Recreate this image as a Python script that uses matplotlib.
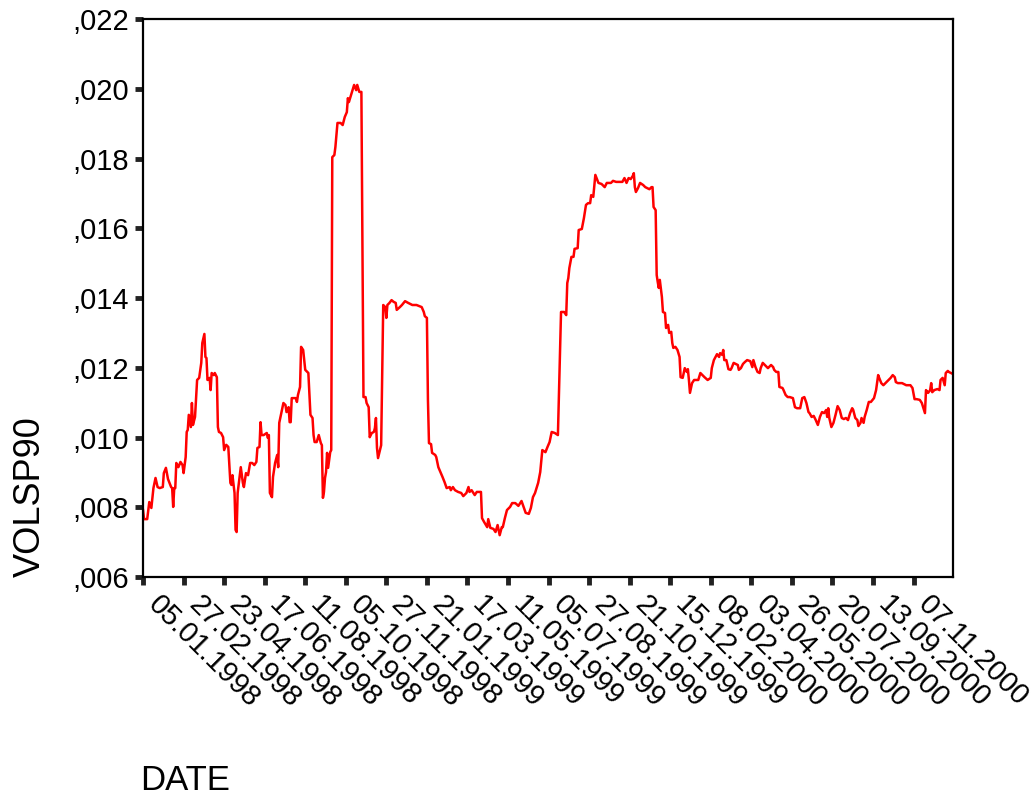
import matplotlib
matplotlib.use("Agg")
import matplotlib.pyplot as plt
import matplotlib.transforms as mtransforms
import numpy as np
from matplotlib.ticker import FuncFormatter, MultipleLocator

plt.rcParams["font.family"] = ["Liberation Sans", "DejaVu Sans"]

# trading-day number (0 = 05.01.1998) and 90-day volatility of the S&P series
DAY = [
    0, 1, 4, 6, 8, 10, 12, 14, 16, 19, 20, 22, 24, 27, 28, 29, 30, 31, 32, 34,
    36, 38, 39, 41, 42, 43, 44, 46, 47, 48, 50, 52, 54, 56, 57, 59, 60, 61, 62, 64,
    65, 66, 68, 69, 71, 72, 73, 75, 77, 78, 80, 82, 84, 85, 86, 88, 89, 90, 91, 94,
    96, 97, 99, 101, 103, 105, 107, 109, 110, 112, 113, 114, 116, 119, 120, 121, 122, 124, 125, 127,
    129, 130, 131, 133, 135, 137, 138, 140, 141, 142, 143, 147, 148, 149, 151, 152, 154, 156, 159, 161,
    163, 164, 165, 167, 169, 171, 172, 173, 174, 175, 176, 177, 178, 180, 181, 182, 184, 185, 187, 190,
    192, 194, 196, 197, 198, 200, 203, 205, 206, 208, 210, 212, 214, 215, 217, 218, 220, 222, 223, 224,
    225, 226, 229, 231, 233, 234, 235, 237, 239, 241, 243, 244, 247, 249, 252, 255, 259, 263, 268, 270,
    271, 273, 274, 275, 277, 278, 281, 282, 284, 286, 288, 290, 292, 295, 296, 298, 300, 303, 306, 308,
    311, 313, 314, 316, 319, 321, 325, 326, 328, 331, 332, 334, 337, 339, 341, 343, 345, 346, 348, 350,
    353, 355, 358, 361, 364, 366, 368, 371, 373, 375, 377, 380, 382, 384, 387, 389, 391, 393, 396, 399,
    402, 405, 407, 408, 409, 410, 412, 414, 415, 418, 419, 422, 424, 426, 428, 430, 431, 433, 435, 437,
    438, 441, 444, 446, 450, 452, 455, 461, 463, 465, 467, 469, 471, 472, 473, 474, 476, 478, 481, 483,
    487, 489, 490, 491, 493, 494, 495, 496, 497, 499, 500, 502, 503, 505, 506, 508, 509, 510, 512, 514,
    516, 517, 519, 521, 523, 524, 525, 526, 528, 530, 534, 536, 540, 543, 546, 547, 549, 552, 554, 555,
    557, 558, 559, 561, 563, 565, 566, 568, 570, 572, 573, 575, 577, 579, 581, 584, 586, 587, 589, 591,
    593, 594, 596, 598, 601, 604, 606, 607, 609, 611, 612, 615, 616, 618, 620, 622, 625, 627, 629, 632,
    634, 636, 638, 640, 641, 643, 645, 647, 649, 651, 653, 655, 657, 658, 659, 660, 662, 664, 666, 668,
    670, 672, 674, 676, 678, 680, 682, 683, 685, 687, 688, 690, 691, 693, 694, 696, 698, 700, 703, 705,
    707, 708, 710, 712, 715, 717, 719, 721, 723, 724, 726, 730, 734, 738, 740, 742, 744, 747, 749, 751,
    752, 753, 755, 757, 758, 759, 761, 764, 766, 767, 769, 771, 772, 774, 775, 777, 779,
]

VOLSP90 = [
    0.00792, 0.00766, 0.00766, 0.00815, 0.00798, 0.00855, 0.00884, 0.00858, 0.00855, 0.00858,
    0.00898, 0.00913, 0.00881, 0.00858, 0.00855, 0.00801, 0.00855, 0.00855, 0.00927, 0.00915,
    0.00930, 0.00921, 0.00898, 0.00944, 0.01016, 0.01022, 0.01065, 0.01030, 0.01099, 0.01036,
    0.01059, 0.01165, 0.01171, 0.01214, 0.01271, 0.01297, 0.01231, 0.01228, 0.01165, 0.01171,
    0.01136, 0.01185, 0.01179, 0.01185, 0.01173, 0.01030, 0.01016, 0.01013, 0.01001, 0.00964,
    0.00979, 0.00973, 0.00870, 0.00864, 0.00892, 0.00841, 0.00735, 0.00729, 0.00841, 0.00915,
    0.00870, 0.00858, 0.00898, 0.00892, 0.00927, 0.00927, 0.00921, 0.00930, 0.00970, 0.00973,
    0.01044, 0.01007, 0.01007, 0.01013, 0.00999, 0.01007, 0.00841, 0.00829, 0.00887, 0.00927,
    0.00950, 0.00915, 0.01042, 0.01070, 0.01099, 0.01093, 0.01073, 0.01087, 0.01044, 0.01044,
    0.01113, 0.01113, 0.01102, 0.01122, 0.01145, 0.01260, 0.01251, 0.01194, 0.01185, 0.01065,
    0.01056, 0.01007, 0.00987, 0.00987, 0.01007, 0.00984, 0.00978, 0.00827, 0.00844, 0.00884,
    0.00901, 0.00956, 0.00913, 0.00958, 0.00964, 0.01804, 0.01810, 0.01833, 0.01902, 0.01902,
    0.01896, 0.01919, 0.01933, 0.01973, 0.01962, 0.01982, 0.02011, 0.01996, 0.02011, 0.01991,
    0.01991, 0.01116, 0.01116, 0.01099, 0.01087, 0.01001, 0.01013, 0.01016, 0.01027, 0.01056,
    0.00970, 0.00941, 0.00978, 0.01380, 0.01374, 0.01343, 0.01380, 0.01386, 0.01394, 0.01389,
    0.01386, 0.01366, 0.01374, 0.01380, 0.01391, 0.01386, 0.01380, 0.01380, 0.01374, 0.01360,
    0.01348, 0.01343, 0.01108, 0.00984, 0.00981, 0.00956, 0.00950, 0.00944, 0.00915, 0.00901,
    0.00887, 0.00872, 0.00855, 0.00858, 0.00849, 0.00858, 0.00849, 0.00844, 0.00841, 0.00832,
    0.00841, 0.00858, 0.00844, 0.00849, 0.00835, 0.00844, 0.00844, 0.00769, 0.00758, 0.00743,
    0.00766, 0.00741, 0.00738, 0.00729, 0.00749, 0.00720, 0.00743, 0.00743, 0.00769, 0.00792,
    0.00801, 0.00812, 0.00812, 0.00804, 0.00818, 0.00801, 0.00784, 0.00781, 0.00798, 0.00829,
    0.00841, 0.00870, 0.00901, 0.00964, 0.00958, 0.00973, 0.00987, 0.01016, 0.01013, 0.01007,
    0.01360, 0.01360, 0.01351, 0.01443, 0.01457, 0.01486, 0.01518, 0.01518, 0.01541, 0.01543,
    0.01595, 0.01598, 0.01629, 0.01667, 0.01672, 0.01672, 0.01695, 0.01690, 0.01753, 0.01738,
    0.01730, 0.01727, 0.01718, 0.01730, 0.01730, 0.01736, 0.01733, 0.01733, 0.01744, 0.01730,
    0.01744, 0.01741, 0.01750, 0.01758, 0.01718, 0.01704, 0.01715, 0.01730, 0.01724, 0.01718,
    0.01712, 0.01718, 0.01718, 0.01661, 0.01652, 0.01466, 0.01446, 0.01429, 0.01452, 0.01403,
    0.01360, 0.01357, 0.01314, 0.01323, 0.01300, 0.01303, 0.01271, 0.01257, 0.01260, 0.01251,
    0.01231, 0.01173, 0.01171, 0.01199, 0.01188, 0.01196, 0.01165, 0.01128, 0.01156, 0.01165,
    0.01165, 0.01185, 0.01173, 0.01165, 0.01171, 0.01199, 0.01222, 0.01239, 0.01231, 0.01242,
    0.01237, 0.01251, 0.01222, 0.01222, 0.01196, 0.01194, 0.01199, 0.01214, 0.01211, 0.01208,
    0.01194, 0.01199, 0.01211, 0.01217, 0.01222, 0.01219, 0.01202, 0.01222, 0.01202, 0.01188,
    0.01185, 0.01199, 0.01214, 0.01208, 0.01199, 0.01208, 0.01202, 0.01194, 0.01188, 0.01188,
    0.01145, 0.01142, 0.01136, 0.01122, 0.01116, 0.01116, 0.01113, 0.01087, 0.01084, 0.01084,
    0.01113, 0.01116, 0.01099, 0.01073, 0.01070, 0.01059, 0.01062, 0.01050, 0.01036, 0.01059,
    0.01073, 0.01070, 0.01079, 0.01059, 0.01084, 0.01056, 0.01030, 0.01042, 0.01065, 0.01090,
    0.01079, 0.01056, 0.01053, 0.01056, 0.01050, 0.01070, 0.01084, 0.01079, 0.01056, 0.01050,
    0.01033, 0.01042, 0.01056, 0.01042, 0.01059, 0.01079, 0.01102, 0.01102, 0.01113, 0.01136,
    0.01179, 0.01171, 0.01156, 0.01150, 0.01159, 0.01165, 0.01171, 0.01179, 0.01173, 0.01159,
    0.01156, 0.01156, 0.01150, 0.01150, 0.01142, 0.01110, 0.01110, 0.01108, 0.01099, 0.01079,
    0.01070, 0.01136, 0.01128, 0.01136, 0.01156, 0.01130, 0.01136, 0.01139, 0.01136, 0.01165,
    0.01171, 0.01150, 0.01185, 0.01191, 0.01188, 0.01185, 0.01182,
]

DATE_LABELS = [
    "05.01.1998", "27.02.1998", "23.04.1998", "17.06.1998", "11.08.1998",
    "05.10.1998", "27.11.1998", "21.01.1999", "17.03.1999", "11.05.1999",
    "05.07.1999", "27.08.1999", "21.10.1999", "15.12.1999", "08.02.2000",
    "03.04.2000", "26.05.2000", "20.07.2000", "13.09.2000", "07.11.2000",
]
LABEL_STEP = 39   # trading days between date labels
N_DAYS = 780

fig = plt.figure(figsize=(10.35, 7.96), dpi=100)
ax = fig.add_axes([0.1382, 0.2751, 0.7826, 0.7010])

ax.plot(DAY, VOLSP90, color="#ff0000", linewidth=1.8)

ax.set_xlim(0, N_DAYS - 1)
ax.set_ylim(0.006, 0.022)

tick_pos = np.arange(len(DATE_LABELS)) * LABEL_STEP
ax.set_xticks(tick_pos)
ax.set_xticklabels([])
# slanted dates, set a little right of and below each tick
label_tf = ax.get_xaxis_transform() + mtransforms.ScaledTranslation(0.19, -0.13, fig.dpi_scale_trans)
for pos, text in zip(tick_pos, DATE_LABELS):
    ax.text(pos, 0, text, transform=label_tf, rotation=-45, rotation_mode="anchor",
            ha="left", va="top", fontsize=21, clip_on=False)

ax.yaxis.set_major_locator(MultipleLocator(0.002))
ax.yaxis.set_major_formatter(FuncFormatter(lambda v, _: f"{v:.3f}".lstrip("0").replace(".", ",")))
ax.tick_params(axis="y", labelsize=21, pad=4)
ax.tick_params(direction="out", length=6, width=3.5, color="#222222")

for spine in ax.spines.values():
    spine.set_linewidth(1.6)

fig.text(30 / 1035, 0.2751, "VOLSP90", rotation=90, ha="center", va="bottom", fontsize=26)
fig.text(140 / 1035, 1 - 790 / 796, "DATE", ha="left", va="baseline", fontsize=25)

fig.savefig("out.png", dpi=100, facecolor="white")
